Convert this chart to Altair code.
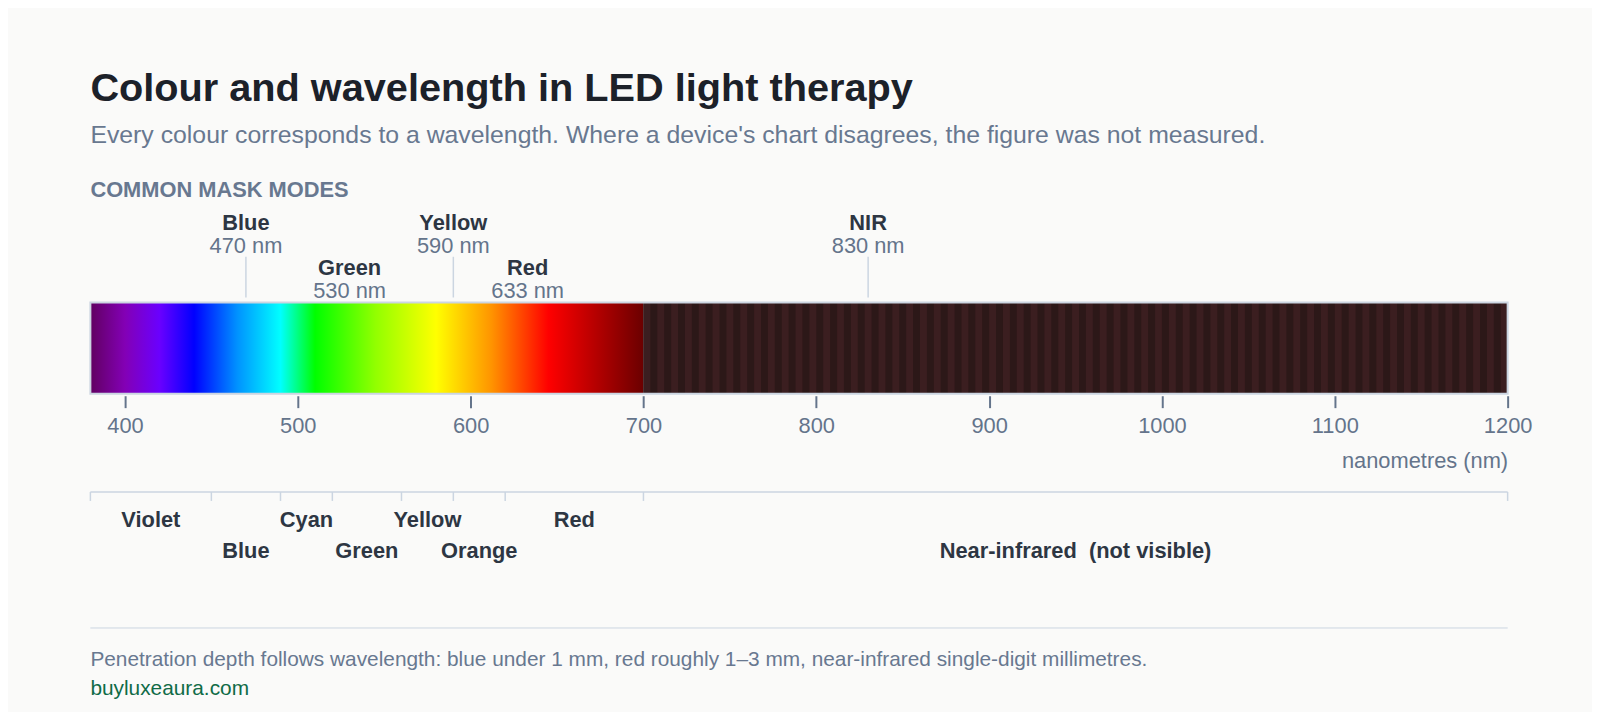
import pandas as pd
import altair as alt

FONT = "Liberation Sans"
INK = "#2d3643"
GREY = "#64748b"
LINE = "#cbd5e1"

# visible spectrum colour stops
stop_nm = [380, 400, 420, 440, 465, 490, 510, 545, 580, 612, 645, 700]
stop_hex = ["#610061", "#8300b5", "#6a00ff", "#0000ff", "#0092ff", "#00ffff",
            "#00ff00", "#92ff00", "#ffff00", "#ff9400", "#ff0000", "#6b0000"]

# near-infrared texture: dark base, lighter stripes
nir_dark = "#2c1818"
nir_light = "#3b1e20"
stripe_nm = list(range(700, 1200, 8))

# common mask modes
mode_name = ["Blue", "Green", "Yellow", "Red", "NIR"]
mode_nm = [470, 530, 590, 633, 830]

# colour bands under the axis
band_name = ["Violet", "Blue", "Cyan", "Green", "Yellow", "Orange", "Red",
             "Near-infrared\u00a0 (not visible)"]
band_start = [380, 450, 490, 520, 560, 590, 620, 700]
band_end = [450, 490, 520, 560, 590, 620, 700, 1200]

tick_nm = [400, 500, 600, 700, 800, 900, 1000, 1100, 1200]

title = "Colour and wavelength in LED light therapy"
subtitle = ("Every colour corresponds to a wavelength. "
            "Where a device's chart disagrees, the figure was not measured.")
section = "COMMON MASK MODES"
footnote = ("Penetration depth follows wavelength: blue under 1 mm, "
            "red roughly 1\u20133 mm, near-infrared single-digit millimetres.")
source = "buyluxeaura.com"

W, H = 1428, 700
lo, hi = band_start[0], band_end[-1]

xscale = alt.Scale(domain=[lo, hi], nice=False, zero=False)
xaxis = alt.Axis(values=tick_nm, format="d", offset=388 - H, domain=False,
                 grid=False, tickSize=12, tickWidth=2, tickColor=GREY,
                 labelColor=GREY, labelFontSize=22, labelPadding=8,
                 labelFlush=False, labelOverlap=False,
                 title="nanometres (nm)", titleColor=GREY, titleFontSize=22,
                 titleFontWeight="normal", titleAnchor="end", titleAlign="right",
                 titleBaseline="alphabetic", titleX=W, titleY=72)


def X(field):
    return alt.X(field, scale=xscale, axis=xaxis)


# ---- spectrum bar
span = stop_nm[-1] - stop_nm[0]
grad = alt.Gradient(
    gradient="linear", x1=0, x2=1, y1=0, y2=0,
    stops=[alt.GradientStop(offset=(n - stop_nm[0]) / span, color=c)
           for n, c in zip(stop_nm, stop_hex)])
visible = pd.DataFrame({"a": [stop_nm[0]], "b": [stop_nm[-1]]})
spectrum = alt.Chart(visible).mark_rect(fill=grad).encode(
    X("a:Q"), x2="b:Q", y=alt.value(294), y2=alt.value(386))

nir_range = pd.DataFrame({"a": [band_start[-1]], "b": [hi]})
nir_base = alt.Chart(nir_range).mark_rect(fill=nir_dark).encode(
    X("a:Q"), x2="b:Q", y=alt.value(294), y2=alt.value(386))

stripes = pd.DataFrame({"a": stripe_nm, "b": [s + 4 for s in stripe_nm]})
nir = alt.Chart(stripes).mark_rect(fill=nir_light).encode(
    X("a:Q"), x2="b:Q", y=alt.value(294), y2=alt.value(386))

whole = pd.DataFrame({"a": [lo], "b": [hi]})
border = alt.Chart(whole).mark_rect(fillOpacity=0, stroke=LINE, strokeWidth=2).encode(
    X("a:Q"), x2="b:Q", y=alt.value(294), y2=alt.value(386))

# ---- mode annotations (alternating rows)
modes = pd.DataFrame({"name": mode_name, "nm": mode_nm,
                      "lab": [f"{v} nm" for v in mode_nm]})
upper = modes.iloc[::2]
lower = modes.iloc[1::2]

leaders = alt.Chart(upper).mark_rule(color=LINE, strokeWidth=1.5).encode(
    X("nm:Q"), y=alt.value(248), y2=alt.value(289))


def labels(df, field, y, bold, color):
    return alt.Chart(df).mark_text(
        align="center", baseline="alphabetic", fontSize=22,
        fontWeight="bold" if bold else "normal", color=color
    ).encode(X("nm:Q"), y=alt.value(y), text=f"{field}:N")


mode_layers = [
    labels(upper, "name", 221, True, INK),
    labels(upper, "lab", 244, False, GREY),
    labels(lower, "name", 266.5, True, INK),
    labels(lower, "lab", 290, False, GREY),
]

# ---- band bracket
bands = pd.DataFrame({"name": band_name, "a": band_start, "b": band_end})
bands["mid"] = (bands.a + bands.b) / 2
bracket = alt.Chart(whole).mark_rule(color=LINE, strokeWidth=1.5).encode(
    X("a:Q"), x2="b:Q", y=alt.value(485))
edges = pd.DataFrame({"nm": band_start + [hi]})
edge_ticks = alt.Chart(edges).mark_rule(color=LINE, strokeWidth=1.5).encode(
    X("nm:Q"), y=alt.value(485), y2=alt.value(494))


def band_labels(df, y):
    return alt.Chart(df).mark_text(
        align="center", baseline="alphabetic", fontSize=22, fontWeight="bold",
        color=INK
    ).encode(X("mid:Q"), y=alt.value(y), text="name:N")


band_layers = [band_labels(bands.iloc[::2], 520.5),
               band_labels(bands.iloc[1::2], 551)]

# ---- chrome text
def note(text, y, size, color, bold=False):
    return alt.Chart(pd.DataFrame({"t": [text]})).mark_text(
        align="left", baseline="alphabetic", fontSize=size,
        fontWeight="bold" if bold else "normal", color=color
    ).encode(x=alt.value(0), y=alt.value(y), text="t:N")


sep = alt.Chart(whole).mark_rule(color=LINE, strokeWidth=1).encode(
    X("a:Q"), x2="b:Q", y=alt.value(622))

chrome = [
    note(title, 91, 40, "#1c2129", bold=True),
    note(subtitle, 133, 25, "#687890"),
    note(section, 188, 22, "#687890", bold=True),
    note(footnote, 660, 21, "#687890"),
    note(source, 690, 21, "#0f6b47"),
]

chart = alt.layer(
    spectrum, nir_base, nir, border, leaders, *mode_layers,
    bracket, edge_ticks, *band_layers, sep, *chrome
).properties(
    width=W, height=H, background="#fafaf9",
    padding={"left": 82, "top": 0, "right": 60, "bottom": 4},
).configure(font=FONT).configure_view(strokeWidth=0)

chart.save("out.html", embed_options={"renderer": "svg", "actions": False})
